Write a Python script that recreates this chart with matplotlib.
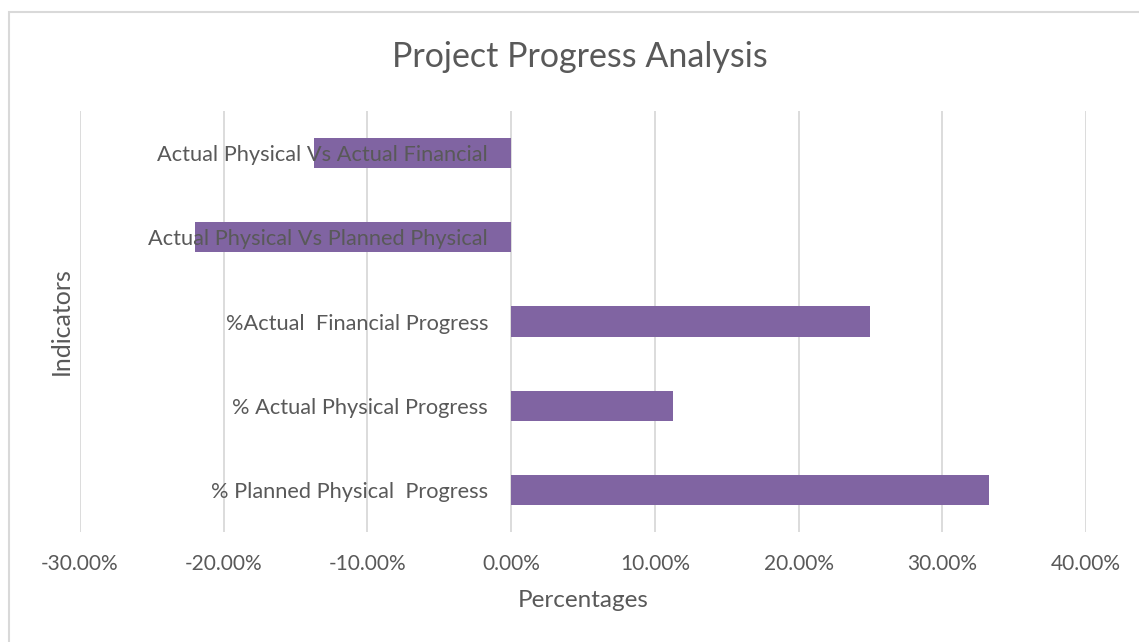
import matplotlib.pyplot as plt
from matplotlib.patches import Rectangle
from matplotlib.ticker import PercentFormatter

plt.rcParams['font.family'] = ['Lato', 'DejaVu Sans']
plt.rcParams['axes.unicode_minus'] = False

# ================================
# Data
# ================================
indicators = [
    "% Planned Physical  Progress",
    "% Actual Physical Progress",
    "%Actual  Financial Progress",
    "Actual Physical Vs Planned Physical",
    "Actual Physical Vs Actual Financial",
]
values = [33.26, 11.27, 25.0, -22.0, -13.7]   # percent

xticks = [-30, -20, -10, 0, 10, 20, 30, 40]

text_col = '#595959'
bar_col = '#8064A2'
grid_col = '#D9D9D9'

# ================================
# Plot
# ================================
fig = plt.figure(figsize=(11.39, 6.42), dpi=100)
ax = fig.add_axes([0.0702, 0.1713, 0.8833, 0.6558])

pos = list(range(len(indicators)))
ax.barh(pos, values, height=0.36, color=bar_col, zorder=1)

ax.set_xlim(-30, 40)
ax.set_ylim(-0.5, len(indicators) - 0.5)
ax.set_xticks(xticks)
ax.xaxis.set_major_formatter(PercentFormatter(decimals=2))
ax.grid(axis='x', color=grid_col, lw=1.3)
ax.xaxis.set_zorder(0.5)   # gridlines behind bars
ax.yaxis.set_zorder(5)     # labels on top of bars

# category labels sit next to the zero line
ax.spines['left'].set_position(('data', 0))
ax.set_yticks(pos)
ax.set_yticklabels(indicators)
for s in ax.spines.values():
    s.set_visible(False)
ax.tick_params(axis='y', length=0, pad=16.5, labelsize=15.7, labelcolor=text_col)
ax.tick_params(axis='x', length=0, pad=16, labelsize=15, labelcolor=text_col)

fig.text(0.509, 0.911, "Project Progress Analysis", ha='center', va='center',
         fontsize=24.5, color=text_col)
fig.text(0.512, 0.064, "Percentages", ha='center', va='center',
         fontsize=17.5, color=text_col)
fig.text(0.054, 0.5, "Indicators", ha='center', va='center', rotation=90,
         fontsize=18, color=text_col)

# chart border
fig.patches.append(Rectangle((9 / 1139, -0.05), 1.1, 0.981 + 0.05,
                             transform=fig.transFigure, fill=False,
                             edgecolor=grid_col, lw=1.5))

fig.savefig("out.png", dpi=100)
